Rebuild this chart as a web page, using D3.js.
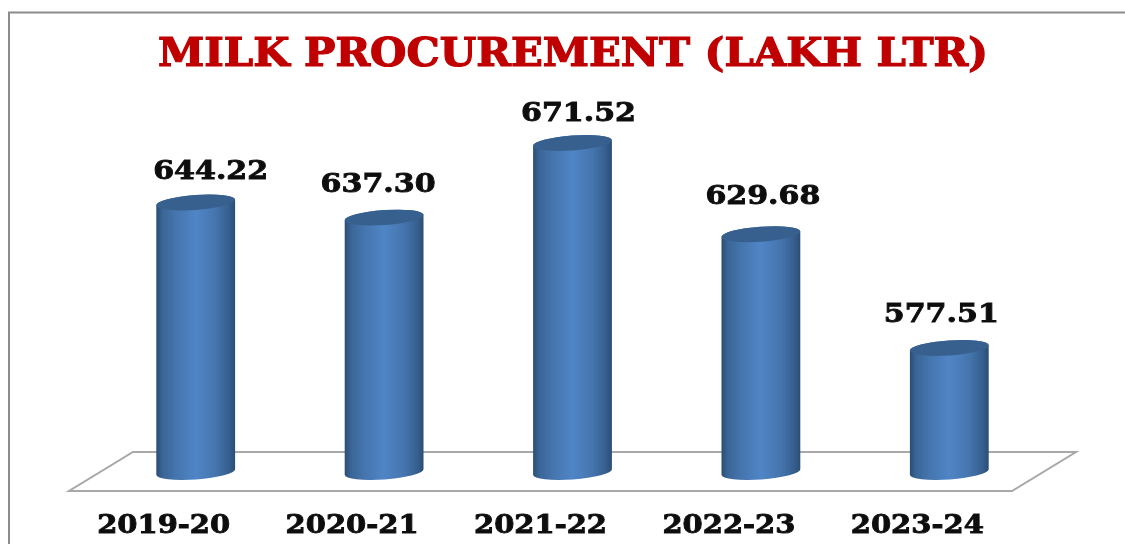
<!DOCTYPE html>
<html>
<head>
<meta charset="utf-8">
<script src="https://cdn.jsdelivr.net/npm/d3@7"></script>
<style>
  html, body { margin: 0; padding: 0; background: #fff; }
  svg { display: block; }
  text { font-family: "DejaVu Serif", serif; font-weight: bold; }
</style>
</head>
<body>
<div id="chart"></div>
<script>
// data
var titleText = 'MILK PROCUREMENT (LAKH LTR)';
var years = ['2019-20', '2020-21', '2021-22', '2022-23', '2023-24'];
var procurement = [644.22, 637.30, 671.52, 629.68, 577.51];
var valueLabels = ['644.22', '637.30', '671.52', '629.68', '577.51'];

var width = 1125, height = 544;
var rx = 39.5, ry = 7.5, tilt = -4;
var dx = rx * Math.cos(tilt * Math.PI / 180), dy = rx * Math.sin(tilt * Math.PI / 180);

var svg = d3.select('#chart').append('svg')
    .attr('width', width)
    .attr('height', height);

var defs = svg.append('defs');

var grad = defs.append('linearGradient')
    .attr('id', 'cyl')
    .attr('x1', 0).attr('x2', 1).attr('y1', 0).attr('y2', 0);
grad.append('stop').attr('offset', '0%').attr('stop-color', '#2b4d75');
grad.append('stop').attr('offset', '8%').attr('stop-color', '#3a6596');
grad.append('stop').attr('offset', '25%').attr('stop-color', '#4575ae');
grad.append('stop').attr('offset', '50%').attr('stop-color', '#5085c6');
grad.append('stop').attr('offset', '75%').attr('stop-color', '#4575ae');
grad.append('stop').attr('offset', '92%').attr('stop-color', '#365f8f');
grad.append('stop').attr('offset', '100%').attr('stop-color', '#2b4d75');

// the reference is a soft upscaled screenshot
defs.append('filter').attr('id', 'soft')
    .append('feGaussianBlur').attr('stdDeviation', 0.6);

// frame, only top and left are visible in the crop
svg.append('path')
    .attr('d', 'M9,544 V12.5 H1125')
    .attr('fill', 'none')
    .attr('stroke', '#8c8c8c')
    .attr('stroke-width', 2);

var x = d3.scaleBand()
    .domain(years)
    .range([101.5, 1043.5])
    .paddingInner(0)
    .paddingOuter(0);

var y = d3.scaleLinear()
    .domain([520.6, 671.52])
    .range([472, 143]);

var chart = svg.append('g').attr('filter', 'url(#soft)');

// floor
chart.append('polygon')
    .attr('points', '69,491 1012,491 1076,452 133,452')
    .attr('fill', '#fff')
    .attr('stroke', '#a8a8a8')
    .attr('stroke-width', 2);

var cx = function(d) { return x(d) + x.bandwidth() / 2; };

var bars = chart.selectAll('.bar')
    .data(years)
    .enter().append('g')
    .attr('class', 'bar');

bars.append('path')
    .attr('fill', 'url(#cyl)')
    .attr('d', function(d, i) {
        var c = cx(d), top = y(procurement[i]), bottom = y.range()[0];
        return 'M' + (c - dx) + ',' + (top - dy) +
            'L' + (c - dx) + ',' + (bottom - dy) +
            'A' + rx + ',' + ry + ' ' + tilt + ' 0 0 ' + (c + dx) + ',' + (bottom + dy) +
            'L' + (c + dx) + ',' + (top + dy) +
            'A' + rx + ',' + ry + ' ' + tilt + ' 0 0 ' + (c - dx) + ',' + (top - dy) + 'Z';
    });

bars.append('ellipse')
    .attr('rx', rx)
    .attr('ry', ry)
    .attr('fill', '#38618f')
    .attr('transform', function(d, i) {
        return 'translate(' + cx(d) + ',' + y(procurement[i]) + ') rotate(' + tilt + ')';
    });

// data labels were hand placed in the original, so they sit off centre
var labelNudgeX = [15, -6, 6, 2, -8];
var labelNudgeY = [-24, -26, -22, -30, -26];

chart.selectAll('.value')
    .data(valueLabels)
    .enter().append('text')
    .attr('class', 'value')
    .attr('x', function(d, i) { return cx(years[i]) + labelNudgeX[i]; })
    .attr('y', function(d, i) { return y(procurement[i]) + labelNudgeY[i]; })
    .attr('text-anchor', 'middle')
    .attr('font-size', 26)
    .attr('textLength', 115)
    .attr('lengthAdjust', 'spacingAndGlyphs')
    .attr('fill', '#111')
    .attr('stroke', '#111')
    .attr('stroke-width', 0.9)
    .text(function(d) { return d; });

// category axis, labels are shifted left like a 3d chart's front edge
var axis = chart.append('g')
    .attr('transform', 'translate(0,491)')
    .call(d3.axisBottom(x).tickSize(0).tickPadding(0));

axis.select('.domain').remove();

axis.selectAll('text')
    .attr('x', -32)
    .attr('y', 42)
    .attr('dy', 0)
    .attr('font-size', 26)
    .attr('font-family', '"DejaVu Serif", serif')
    .attr('textLength', 133)
    .attr('lengthAdjust', 'spacingAndGlyphs')
    .attr('fill', '#111')
    .attr('stroke', '#111')
    .attr('stroke-width', 0.9);

chart.append('text')
    .attr('x', 573)
    .attr('y', 66)
    .attr('text-anchor', 'middle')
    .attr('font-size', 39)
    .attr('textLength', 830)
    .attr('lengthAdjust', 'spacingAndGlyphs')
    .attr('fill', '#c00000')
    .attr('stroke', '#c00000')
    .attr('stroke-width', 1.2)
    .text(titleText);
</script>
</body>
</html>
